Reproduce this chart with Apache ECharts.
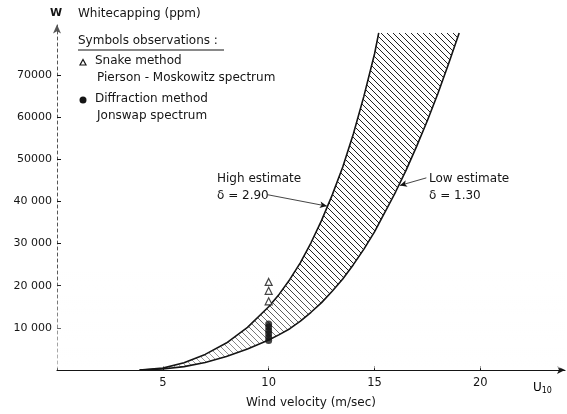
<!DOCTYPE html>
<html><head><meta charset="utf-8">
<script src="https://cdn.jsdelivr.net/npm/echarts@6/dist/echarts.min.js"></script>
<style>html,body{margin:0;padding:0;background:#fff}#c{width:567px;height:414px}</style>
</head><body><div id="c"></div>
<script>
// Data
var xTicks = [5, 10, 15, 20];
var yTicks = [10000, 20000, 30000, 40000, 50000, 60000, 70000];
var yTickLabels = {10000:'10 000',20000:'20 000',30000:'30 000',40000:'40 000',50000:'50000',60000:'60000',70000:'70000'};
// High estimate (delta = 2.90)
var highU = [3.9, 5, 6, 7, 8, 9, 10, 10.5, 11, 11.5, 12, 12.5, 13, 13.5, 14, 14.5, 15, 15.2];
var highW = [0, 450, 1700, 3700, 6400, 10100, 15000, 18000, 21500, 25500, 30200, 35500, 41500, 48200, 56000, 65000, 75000, 80000];
// Low estimate (delta = 1.30)
var lowU = [3.9, 5, 6, 7, 8, 9, 10, 10.5, 11, 11.5, 12, 12.5, 13, 13.5, 14, 14.5, 15, 15.5, 16, 16.5, 17, 17.5, 18, 18.5, 19];
var lowW = [0, 220, 800, 1800, 3200, 5000, 7100, 8400, 9800, 11600, 13700, 16000, 18700, 21600, 25000, 28700, 32800, 37500, 42300, 47500, 53200, 59200, 65700, 72700, 80000];
// Observations at U10 = 10 m/s
var snakeU = [10, 10, 10];
var snakeW = [16300, 18800, 20900];
var diffU = [10, 10, 10, 10, 10, 10];
var diffW = [7000, 7800, 8600, 9400, 10200, 10900];

var FONT = 'DejaVu Sans';
var INK = '#151515';

function zip(a, b) { return a.map(function (v, i) { return [v, b[i]]; }); }

// hatch pattern
var pc = document.createElement('canvas');
pc.width = 6; pc.height = 6;
var g = pc.getContext('2d');
g.strokeStyle = '#222'; g.lineWidth = 1;
g.beginPath();
g.moveTo(-1, -1); g.lineTo(7, 7);
g.moveTo(-1, 5); g.lineTo(1, 7);
g.moveTo(5, -1); g.lineTo(7, 1);
g.stroke();

var chart = echarts.init(document.getElementById('c'), null, {renderer: 'canvas'});
var option = {
  animation: false,
  grid: {left: 57, right: 2, top: 24.5, bottom: 37},
  xAxis: {
    type: 'value', min: 0, max: 24, interval: 5,
    splitLine: {show: false},
    axisLine: {lineStyle: {color: INK, width: 1.2}, symbol: ['none', 'arrow'], symbolSize: [6, 8]},
    axisTick: {show: true, inside: true, length: 4, customValues: xTicks, lineStyle: {color: INK}},
    axisLabel: {customValues: xTicks, color: INK, fontFamily: FONT, fontSize: 11.5, margin: 7},
    name: 'Wind velocity (m/sec)', nameLocation: 'middle', nameGap: 27,
    nameTextStyle: {color: INK, fontFamily: FONT, fontSize: 12}
  },
  yAxis: {
    type: 'value', min: 0, max: 82000, interval: 10000,
    splitLine: {show: false},
    axisLine: {lineStyle: {color: '#555', width: 1, type: [3, 3]}, symbol: ['none', 'arrow'], symbolSize: [6, 9]},
    axisTick: {show: true, inside: true, length: 4, customValues: yTicks, lineStyle: {color: INK}},
    axisLabel: {customValues: yTicks, color: INK, fontFamily: FONT, fontSize: 11, margin: 5,
      formatter: function (v) { return yTickLabels[v] || ''; }}
  },
  series: [
    {
      type: 'custom', clip: true, z: 1,
      data: [0],
      renderItem: function (params, api) {
        var pts = [];
        for (var i = 0; i < highU.length; i++) pts.push(api.coord([highU[i], highW[i]]));
        for (var j = lowU.length - 1; j >= 0; j--) pts.push(api.coord([lowU[j], lowW[j]]));
        var a = api.coord([0, 24000]);
        var b = api.coord([24, 400]);
        return {type: 'group', children: [
          {type: 'polygon', shape: {points: pts},
            style: {fill: {image: pc, repeat: 'repeat'}, stroke: null}},
          {type: 'rect', shape: {x: a[0], y: a[1], width: b[0] - a[0], height: b[1] - a[1]},
            style: {fill: new echarts.graphic.LinearGradient(0, 0, 0, 1, [
              {offset: 0, color: 'rgba(255,255,255,0)'},
              {offset: 1, color: 'rgba(255,255,255,0.6)'}]), stroke: null}}
        ]};
      }
    },
    {type: 'line', data: zip(highU, highW), smooth: false, showSymbol: false, z: 3,
      lineStyle: {color: INK, width: 1.6}},
    {type: 'line', data: zip(lowU, lowW), smooth: false, showSymbol: false, z: 3,
      lineStyle: {color: INK, width: 1.6},
      markLine: {silent: true, symbol: ['none', 'arrow'], symbolSize: [5, 7],
        lineStyle: {color: INK, width: 0.8, type: 'solid'}, label: {show: false},
        data: [
          [{coord: [9.95, 41600]}, {coord: [12.75, 38900]}],
          [{coord: [17.45, 45600]}, {coord: [16.2, 43800]}]
        ]}},
    {type: 'scatter', data: zip(snakeU, snakeW), symbol: 'triangle', symbolSize: 7, z: 5,
      itemStyle: {color: '#fff', borderColor: INK, borderWidth: 1.2}},
    {type: 'scatter', data: zip(diffU, diffW), symbol: 'circle', symbolSize: 7, z: 5,
      itemStyle: {color: INK}}
  ],
  graphic: [
    {type: 'text', left: 50, top: 8, style: {text: 'W', font: 'bold 11px ' + FONT, fill: INK}},
    {type: 'text', left: 78, top: 8, style: {text: 'Whitecapping (ppm)', font: '12px ' + FONT, fill: INK}},
    {type: 'text', left: 78, top: 35, style: {text: 'Symbols observations :', font: '12px ' + FONT, fill: INK}},
    {type: 'line', shape: {x1: 78, y1: 50, x2: 224, y2: 50}, style: {stroke: INK, lineWidth: 1.2}},
    {type: 'polygon', shape: {points: [[80, 65], [86, 65], [83, 59.5]]}, style: {fill: '#fff', stroke: INK, lineWidth: 1.2}},
    {type: 'text', left: 95, top: 55, style: {text: 'Snake method', font: '12px ' + FONT, fill: INK}},
    {type: 'text', left: 97, top: 72, style: {text: 'Pierson - Moskowitz spectrum', font: '12px ' + FONT, fill: INK}},
    {type: 'circle', shape: {cx: 83, cy: 100, r: 3.5}, style: {fill: INK}},
    {type: 'text', left: 95, top: 93, style: {text: 'Diffraction method', font: '12px ' + FONT, fill: INK}},
    {type: 'text', left: 97, top: 110, style: {text: 'Jonswap spectrum', font: '12px ' + FONT, fill: INK}},
    {type: 'text', left: 217, top: 173, style: {text: 'High estimate', font: '12px ' + FONT, fill: INK}},
    {type: 'text', left: 217, top: 190, style: {text: 'δ = 2.90', font: '12px ' + FONT, fill: INK}},
    {type: 'text', left: 429, top: 173, style: {text: 'Low estimate', font: '12px ' + FONT, fill: INK}},
    {type: 'text', left: 429, top: 190, style: {text: 'δ = 1.30', font: '12px ' + FONT, fill: INK}},
    {type: 'text', left: 533, top: 382, style: {text: '{a|U}{b|10}', rich: {
      a: {font: '12px ' + FONT, color: INK},
      b: {font: '8px ' + FONT, color: INK, padding: [5, 0, 0, 0]}}}}
  ]
};
chart.setOption(option);
</script></body></html>
